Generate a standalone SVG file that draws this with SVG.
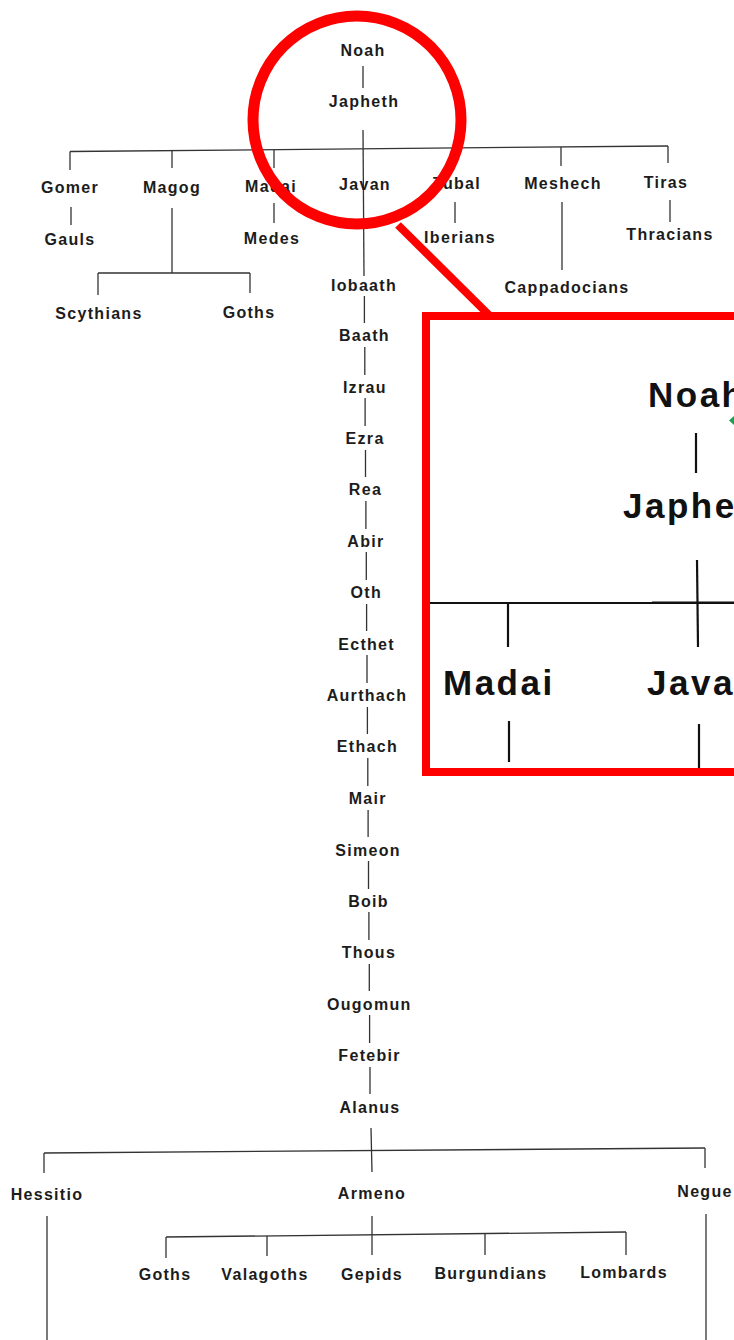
<svg xmlns="http://www.w3.org/2000/svg" width="734" height="1340" viewBox="0 0 734 1340">
<style>
.t{font-family:"Liberation Sans",Arial,sans-serif;font-weight:bold;font-size:16px;letter-spacing:1.3px;fill:#1c1c1c;text-anchor:middle}
.ti{font-family:"Liberation Sans",Arial,sans-serif;font-weight:bold;font-size:35px;letter-spacing:2.5px;fill:#111}
.c line,.c polyline{stroke:#333;stroke-width:1.3;fill:none}
.ic line{stroke:#111;stroke-width:2.2}
.red{stroke:#ff0000;fill:none}
</style>
<defs>
<clipPath id="insetClip"><rect x="430" y="320" width="304" height="448"/></clipPath>
</defs>
<rect width="734" height="1340" fill="#fff"/>
<g id="connectors" class="c">
<line x1="363" y1="66" x2="363" y2="88"/>
<line x1="363" y1="130" x2="364" y2="276"/>
<line x1="70" y1="151.5" x2="668" y2="146"/>
<line x1="70" y1="151.5" x2="70" y2="170"/>
<line x1="172" y1="150.5" x2="172" y2="168"/>
<line x1="274" y1="150" x2="274" y2="168"/>
<line x1="455" y1="148" x2="455" y2="166"/>
<line x1="561" y1="147" x2="561" y2="166"/>
<line x1="668" y1="146" x2="668" y2="163"/>
<line x1="71" y1="207" x2="71" y2="225"/>
<line x1="172" y1="208" x2="172" y2="273"/>
<line x1="98" y1="273" x2="250" y2="273"/>
<line x1="98" y1="273" x2="98" y2="295"/>
<line x1="250" y1="273" x2="250" y2="293"/>
<line x1="274" y1="203" x2="274" y2="223"/>
<line x1="455" y1="202" x2="455" y2="223"/>
<line x1="562" y1="202" x2="562" y2="270"/>
<line x1="670" y1="200" x2="670" y2="222"/>
<line x1="364.4" y1="296" x2="364.4" y2="323"/>
<line x1="364.8" y1="347" x2="364.8" y2="375"/>
<line x1="365.1" y1="398" x2="365.1" y2="426"/>
<line x1="365.5" y1="450" x2="365.5" y2="477"/>
<line x1="365.9" y1="501" x2="365.9" y2="529"/>
<line x1="366.3" y1="552" x2="366.3" y2="580"/>
<line x1="366.6" y1="604" x2="366.6" y2="631"/>
<line x1="367" y1="655" x2="367" y2="683"/>
<line x1="367.4" y1="707" x2="367.4" y2="734"/>
<line x1="367.8" y1="758" x2="367.8" y2="786"/>
<line x1="368.1" y1="810" x2="368.1" y2="837"/>
<line x1="368.5" y1="861" x2="368.5" y2="889"/>
<line x1="368.9" y1="912" x2="368.9" y2="940"/>
<line x1="369.3" y1="964" x2="369.3" y2="991"/>
<line x1="369.6" y1="1015" x2="369.6" y2="1043"/>
<line x1="370" y1="1067" x2="370" y2="1094"/>
<line x1="371" y1="1128" x2="372" y2="1172"/>
<line x1="44" y1="1153" x2="705" y2="1148"/>
<line x1="44" y1="1153" x2="44" y2="1173"/>
<line x1="705" y1="1148" x2="705" y2="1168"/>
<line x1="372" y1="1216" x2="372" y2="1255"/>
<line x1="166" y1="1237" x2="626" y2="1232"/>
<line x1="166" y1="1237" x2="166" y2="1258"/>
<line x1="267" y1="1236" x2="267" y2="1256"/>
<line x1="485" y1="1234" x2="485" y2="1255"/>
<line x1="626" y1="1232" x2="626" y2="1255"/>
<line x1="47" y1="1216" x2="47" y2="1340"/>
<line x1="706" y1="1214" x2="706" y2="1340"/>
</g>
<g id="n-noah"><text class="t" x="363" y="56">Noah</text></g>
<g id="n-japheth"><text class="t" x="364" y="107">Japheth</text></g>
<g id="n-gomer"><text class="t" x="70" y="193">Gomer</text></g>
<g id="n-magog"><text class="t" x="172" y="193">Magog</text></g>
<g id="n-madai"><text class="t" x="271" y="192">Madai</text></g>
<g id="n-javan"><text class="t" x="365" y="190">Javan</text></g>
<g id="n-tubal"><text class="t" x="457" y="189">Tubal</text></g>
<g id="n-meshech"><text class="t" x="563" y="189">Meshech</text></g>
<g id="n-tiras"><text class="t" x="666" y="188">Tiras</text></g>
<g id="n-gauls"><text class="t" x="70" y="245">Gauls</text></g>
<g id="n-medes"><text class="t" x="272" y="244">Medes</text></g>
<g id="n-iberians"><text class="t" x="460" y="243">Iberians</text></g>
<g id="n-thracians"><text class="t" x="670" y="240">Thracians</text></g>
<g id="n-scythians"><text class="t" x="99" y="319">Scythians</text></g>
<g id="n-goths1"><text class="t" x="249" y="318">Goths</text></g>
<g id="n-cappadocians"><text class="t" x="567" y="293">Cappadocians</text></g>
<g id="n-iobaath"><text class="t" x="364" y="291">Iobaath</text></g>
<g id="n-baath"><text class="t" x="364.4" y="341">Baath</text></g>
<g id="n-izrau"><text class="t" x="364.8" y="393">Izrau</text></g>
<g id="n-ezra"><text class="t" x="365.1" y="444">Ezra</text></g>
<g id="n-rea"><text class="t" x="365.5" y="495">Rea</text></g>
<g id="n-abir"><text class="t" x="365.9" y="547">Abir</text></g>
<g id="n-oth"><text class="t" x="366.3" y="598">Oth</text></g>
<g id="n-ecthet"><text class="t" x="366.6" y="650">Ecthet</text></g>
<g id="n-aurthach"><text class="t" x="367" y="701">Aurthach</text></g>
<g id="n-ethach"><text class="t" x="367.4" y="752">Ethach</text></g>
<g id="n-mair"><text class="t" x="367.8" y="804">Mair</text></g>
<g id="n-simeon"><text class="t" x="368.1" y="856">Simeon</text></g>
<g id="n-boib"><text class="t" x="368.5" y="907">Boib</text></g>
<g id="n-thous"><text class="t" x="368.9" y="958">Thous</text></g>
<g id="n-ougomun"><text class="t" x="369.3" y="1010">Ougomun</text></g>
<g id="n-fetebir"><text class="t" x="369.6" y="1061">Fetebir</text></g>
<g id="n-alanus"><text class="t" x="370" y="1113">Alanus</text></g>
<g id="n-hessitio"><text class="t" x="47" y="1200">Hessitio</text></g>
<g id="n-armeno"><text class="t" x="372" y="1199">Armeno</text></g>
<g id="n-negue"><text class="t" x="705" y="1197">Negue</text></g>
<g id="n-goths2"><text class="t" x="165" y="1280">Goths</text></g>
<g id="n-valagoths"><text class="t" x="265" y="1280">Valagoths</text></g>
<g id="n-gepids"><text class="t" x="372" y="1280">Gepids</text></g>
<g id="n-burgundians"><text class="t" x="491" y="1279">Burgundians</text></g>
<g id="n-lombards"><text class="t" x="624" y="1278">Lombards</text></g>
<g id="highlight">
<circle class="red" cx="357" cy="120" r="104" stroke-width="11"/>
<line class="red" x1="398" y1="225" x2="492" y2="318" stroke-width="8"/>
</g>
<g id="inset">
<rect x="426" y="316" width="400" height="456" fill="#fff"/>
<g clip-path="url(#insetClip)">
<g class="ic">
<line x1="696" y1="433" x2="696" y2="473"/>
<line x1="697" y1="560" x2="698" y2="647"/>
<line x1="430" y1="603" x2="734" y2="603" stroke-width="1.6"/>
<line x1="487" y1="603" x2="555" y2="603" stroke-width="3.2"/>
<line x1="652" y1="602.5" x2="734" y2="602.5" stroke-width="3.6"/>
<line x1="508" y1="603" x2="508" y2="647"/>
<line x1="509" y1="721" x2="509" y2="762"/>
<line x1="699" y1="724" x2="699" y2="768"/>
</g>
<text class="ti" x="648" y="407">Noah</text>
<text class="ti" x="623" y="518">Japheth</text>
<text class="ti" x="443" y="695">Madai</text>
<text class="ti" x="647" y="695">Javan</text>
<polygon points="729,420.5 734,416 734,425" fill="#1aa052"/>
</g>
<rect class="red" x="426" y="316" width="400" height="456" stroke-width="8"/>
</g>
</svg>
